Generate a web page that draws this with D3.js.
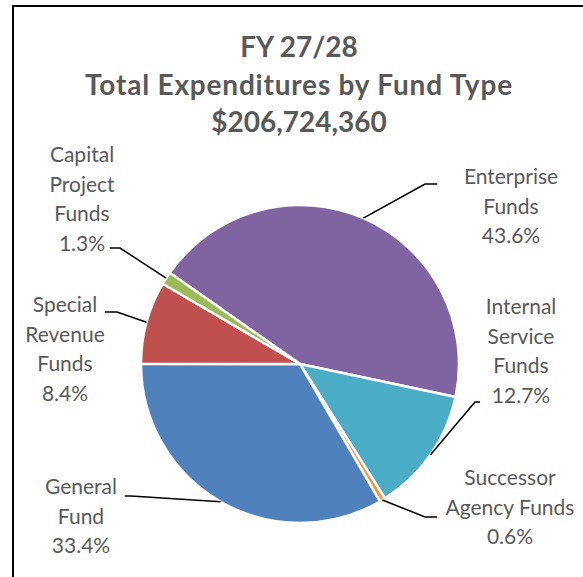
<!DOCTYPE html>
<html>
<head>
<meta charset="utf-8">
<script src="https://cdn.jsdelivr.net/npm/d3@7"></script>
<style>
  html, body { margin: 0; padding: 0; background: #fff; }
  svg { display: block; }
  text { font-family: Lato, "Open Sans", sans-serif; fill: #595959; }
</style>
</head>
<body>
<svg id="chart" width="583" height="577"></svg>
<script>
// Fund types, clockwise from the first slice
const funds = [
  "Enterprise Funds",
  "Internal Service Funds",
  "Successor Agency Funds",
  "General Fund",
  "Special Revenue Funds",
  "Capital Project Funds"
];
// Share of total expenditures, percent
const shares = [43.6, 12.7, 0.6, 33.4, 8.4, 1.3];
// Label lines for each slice
const labelLines = [
  ["Enterprise", "Funds"],
  ["Internal", "Service", "Funds"],
  ["Successor", "Agency Funds"],
  ["General", "Fund"],
  ["Special", "Revenue", "Funds"],
  ["Capital", "Project", "Funds"]
];
const fundColors = ["#8064A2", "#4BACC6", "#F79646", "#4F81BD", "#C0504D", "#9BBB59"];
const titleLines = ["FY 27/28", "Total Expenditures by Fund Type", "$206,724,360"];

// Label placement: text centre x, first baseline y, and the label end of the leader line
const labelLayout = [
  { x: 511, y: 184, lead: [[437, 184], [425, 184]] },
  { x: 521, y: 314, lead: [[480, 402], [475, 402]] },
  { x: 510, y: 485, lead: [[437, 517], [425, 517]] },
  { x: 81,  y: 494, lead: [[125, 496], [131, 496]] },
  { x: 65,  y: 312, lead: [[105, 312], [117, 312]] },
  { x: 82,  y: 162, lead: [[110, 248], [120, 248]] }
];

const svg = d3.select("#chart");
const W = 583, H = 577;
const cx = 300, cy = 364, R = 159;
const lineGap = 29.5;

// frame
svg.append("rect")
  .attr("x", 13).attr("y", 6)
  .attr("width", W + 20).attr("height", H + 20)
  .attr("fill", "none").attr("stroke", "#000").attr("stroke-width", 2);

// title
svg.append("g").selectAll("text")
  .data(titleLines)
  .join("text")
  .attr("x", 299)
  .attr("y", (d, i) => 57 + i * 37.5)
  .attr("text-anchor", "middle")
  .attr("font-size", 28)
  .attr("font-weight", 700)
  .attr("letter-spacing", (d, i) => i === 1 ? 0.8 : 0)
  .text(d => d);

const data = funds.map((f, i) => ({ fund: f, share: shares[i], color: fundColors[i], lines: labelLines[i], layout: labelLayout[i] }));

const pie = d3.pie()
  .sort(null)
  .value(d => d.share)
  .startAngle(-55 * Math.PI / 180)
  .endAngle(305 * Math.PI / 180);

const arc = d3.arc().innerRadius(0).outerRadius(R);
const arcs = pie(data);

const g = svg.append("g").attr("transform", `translate(${cx},${cy})`);
g.selectAll("path.slice")
  .data(arcs)
  .join("path")
  .attr("class", "slice")
  .attr("d", arc)
  .attr("fill", d => d.data.color)
  .attr("stroke", "#fff")
  .attr("stroke-width", 2.5)
  .attr("stroke-linejoin", "round");

// leader lines from labels to the slice rims
const line = d3.line();
svg.append("g").selectAll("path")
  .data(arcs)
  .join("path")
  .attr("d", d => {
    const a = (d.startAngle + d.endAngle) / 2;
    const rim = [cx + R * Math.sin(a), cy - R * Math.cos(a)];
    return line([...d.data.layout.lead, rim]);
  })
  .attr("fill", "none")
  .attr("stroke", "#000")
  .attr("stroke-width", 1.5);

// data labels: name lines, then the percent
const fmt = d3.format(".1f");
const labels = svg.append("g").selectAll("text")
  .data(arcs)
  .join("text")
  .attr("text-anchor", "middle")
  .attr("font-size", 21);
labels.each(function (d) {
  const t = d3.select(this);
  const rows = [...d.data.lines, fmt(d.data.share) + "%"];
  rows.forEach((r, i) => {
    t.append("tspan")
      .attr("x", d.data.layout.x)
      .attr("y", d.data.layout.y + i * lineGap)
      .text(r);
  });
});
</script>
</body>
</html>
